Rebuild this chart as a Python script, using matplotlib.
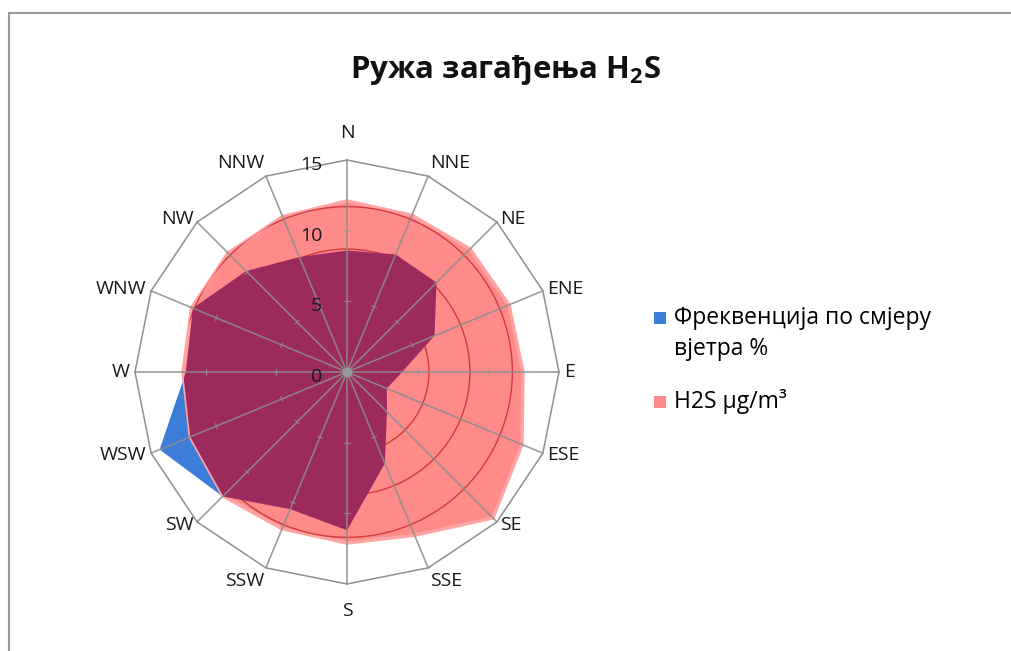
import numpy as np
import matplotlib
matplotlib.use('Agg')
import matplotlib.pyplot as plt
from matplotlib.patches import Polygon, Circle, Rectangle
from matplotlib.lines import Line2D

# data
directions = ['N', 'NNE', 'NE', 'ENE', 'E', 'ESE', 'SE', 'SSE',
              'S', 'SSW', 'SW', 'WSW', 'W', 'WNW', 'NW', 'NNW']
freq = [8.6, 9.0, 8.95, 6.7, 3.9, 3.05, 4.0, 7.0,
        11.2, 10.5, 12.45, 14.35, 11.4, 11.8, 10.1, 8.8]
h2s = [12.1, 12.0, 12.3, 12.4, 12.45, 13.4, 14.6, 12.5,
       12.1, 12.0, 12.4, 12.0, 11.6, 11.9, 11.9, 11.9]
ticks = [0, 5, 10, 15]
rmax = 15
label_freq = 'Фреквенција по смјеру\nвјетра %'
label_h2s = 'H2S µg/m³'
title = r'Ружа загађења H$_\mathbf{2}$S'

plt.rcParams['font.family'] = ['Open Sans', 'DejaVu Sans']
plt.rcParams['mathtext.fontset'] = 'custom'
plt.rcParams['mathtext.rm'] = 'Open Sans'
plt.rcParams['mathtext.bf'] = 'Open Sans:bold'

W, H = 1011, 651
fig = plt.figure(figsize=(W / 100, H / 100), dpi=100)

# radar area: centre and 15-ring radius in pixels
cx, cy, R = 347, 372, 212
half = 260
ax = fig.add_axes([(cx - half) / W, (H - cy - half) / H, 2 * half / W, 2 * half / H])
lim = half / R * rmax
ax.set_xlim(-lim, lim)
ax.set_ylim(-lim, lim)
ax.axis('off')

theta = np.deg2rad(np.arange(len(directions)) * 360 / len(directions))
s, c = np.sin(theta), np.cos(theta)


def xy(vals):
    vals = np.asarray(vals, dtype=float)
    return np.column_stack([vals * s, vals * c])


outer = Polygon(xy([rmax] * len(directions)), closed=True, fill=False,
                ec='#8f8f8f', lw=1.1, zorder=1)
ax.add_patch(outer)

blue = Polygon(xy(freq), closed=True, fc='#3b7dd8', ec='none', zorder=2)
ax.add_patch(blue)

pink = Polygon(xy(h2s), closed=True, fc='#ff8a8a', ec='#ffa3a3', lw=2.5, zorder=3)
ax.add_patch(pink)

# dark red rings seen through the pink area
for rr in [2.9, 5.8, 8.7, 11.7]:
    ring = Circle((0, 0), rr, fill=False, ec='#d03a3a', lw=1.0, zorder=4)
    ax.add_patch(ring)
    ring.set_clip_path(pink)

# overlap of both series
overlap = Polygon(xy(freq), closed=True, fc='#9d2a5c', ec='none', zorder=5)
ax.add_patch(overlap)
overlap.set_clip_path(pink)

# spokes and small ticks
for i in range(len(directions)):
    ax.plot([0, rmax * s[i]], [0, rmax * c[i]], color='#8c8c8c', lw=1.2,
            alpha=0.85, zorder=6)
    for v in ticks[1:-1]:
        ax.plot([v * s[i] - 0.18 * c[i], v * s[i] + 0.18 * c[i]],
                [v * c[i] + 0.18 * s[i], v * c[i] - 0.18 * s[i]],
                color='#9a9a9a', lw=0.9, alpha=0.6, zorder=6)
ax.plot(0, 0, 'o', ms=6, color='#9a9a9a', zorder=7)

for v in ticks:
    ax.text(-1.75, v - 0.35, str(v), ha='right', va='center',
            fontsize=14, color='#1a1a1a', zorder=8)

# direction labels
for i, d in enumerate(directions):
    if abs(s[i]) < 0.1:
        ha = 'center'
    elif s[i] > 0:
        ha = 'left'
    else:
        ha = 'right'
    if c[i] > 0.9:
        va = 'bottom'
    elif c[i] < -0.9:
        va = 'top'
    else:
        va = 'center'
    gap = 18 if abs(s[i]) < 0.1 else 5
    ax.annotate(d, (rmax * s[i], rmax * c[i]),
                xytext=(gap * s[i], gap * c[i]), textcoords='offset pixels',
                ha=ha, va=va, fontsize=14, color='#1a1a1a',
                annotation_clip=False)

fig.text(0.5, 1 - 70 / H, title, ha='center', va='center',
         fontsize=22.5, fontweight='bold', color='#111111')

# legend
for ypix, col in [(318, '#3b7dd8'), (402, '#ff8a8a')]:
    fig.add_artist(Rectangle((654 / W, (H - ypix - 6) / H), 12 / W, 12 / H,
                             transform=fig.transFigure, fc=col, ec='none'))
fig.text(674 / W, 1 - 318 / H, label_freq.split('\n')[0], va='center', fontsize=16.5)
fig.text(674 / W, 1 - 349 / H, label_freq.split('\n')[1], va='center', fontsize=16.5)
fig.text(674 / W, 1 - 402 / H, label_h2s, va='center', fontsize=16.5)

# chart frame
fig.add_artist(Line2D([9 / W, 9 / W], [0, 1 - 13 / H], transform=fig.transFigure,
                      color='#9a9a9a', lw=1.5))
fig.add_artist(Line2D([9 / W, 1], [1 - 13 / H, 1 - 13 / H], transform=fig.transFigure,
                      color='#9a9a9a', lw=1.5))

fig.savefig('out.png', dpi=100)
